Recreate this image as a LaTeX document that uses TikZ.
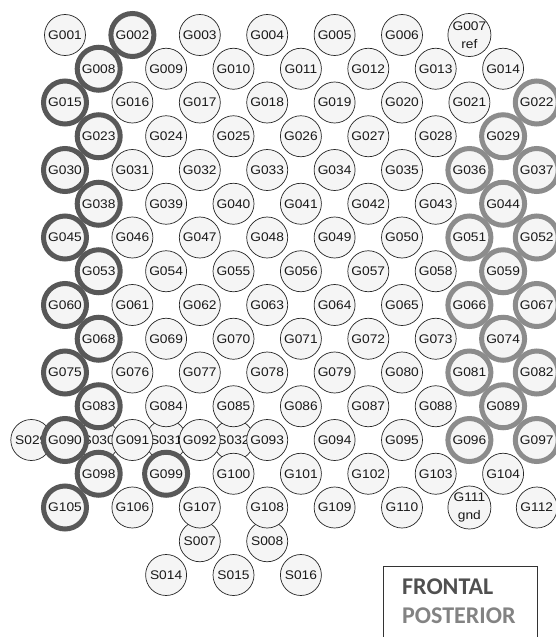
\documentclass[tikz,border=0pt]{standalone}
\usepackage{fontspec}
\newfontfamily\labfont[FakeStretch=1.1]{Liberation Sans}
\newfontfamily\boxfont{Carlito}
\definecolor{ringdark}{HTML}{585858}
\definecolor{ringlight}{HTML}{8C8C8C}
\definecolor{elecfill}{HTML}{F5F5F5}
\definecolor{frontcol}{HTML}{505050}
\definecolor{postcol}{HTML}{838383}
\begin{document}
\begin{tikzpicture}[x=1pt,y=-1pt,
  elec/.style={circle, draw=black!85, line width=0.7pt, fill=elecfill,
    minimum size=41pt, inner sep=0pt, align=center,
    font=\labfont\fontsize{12.5}{17}\selectfont, text=black!90},
  ringD/.style={draw=ringdark, line width=5pt},
  ringL/.style={draw=ringlight, line width=5pt},
  boxtext/.style={anchor=west, inner sep=0pt, font=\boxfont\bfseries\fontsize{24}{24}\selectfont}]

\useasboundingbox[fill=white] (0,0) rectangle (555,637);

% ---- S electrodes (drawn first, lie under the G electrodes)
\node[elec] (S029) at (31.3,440) {S029};
\node[elec] (S030) at (98.7,440) {S030};
\node[elec] (S031) at (166.1,440) {S031};
\node[elec] (S032) at (233.5,440) {S032};
\node[elec] (S007) at (199.8,541.25) {S007};
\node[elec] (S008) at (267.2,541.25) {S008};
\node[elec] (S014) at (166.1,575) {S014};
\node[elec] (S015) at (233.5,575) {S015};
\node[elec] (S016) at (300.9,575) {S016};

% ---- G electrodes, row by row
% row 1 (main columns)
\foreach \nm [count=\c from 0] in {G001,G002,G003,G004,G005,G006}
  \node[elec] (\nm) at ({65+67.4*\c},35) {\nm};
\node[elec] (G007) at (469.4,35) {G007\\[1pt]ref};
% row 2 (offset)
\foreach \nm [count=\c from 0] in {G008,G009,G010,G011,G012,G013,G014}
  \node[elec] (\nm) at ({98.7+67.4*\c},68.75) {\nm};
% row 3
\foreach \nm [count=\c from 0] in {G015,G016,G017,G018,G019,G020,G021,G022}
  \node[elec] (\nm) at ({65+67.4*\c},102.5) {\nm};
% row 4
\foreach \nm [count=\c from 0] in {G023,G024,G025,G026,G027,G028,G029}
  \node[elec] (\nm) at ({98.7+67.4*\c},136.25) {\nm};
% row 5
\foreach \nm [count=\c from 0] in {G030,G031,G032,G033,G034,G035,G036,G037}
  \node[elec] (\nm) at ({65+67.4*\c},170) {\nm};
% row 6
\foreach \nm [count=\c from 0] in {G038,G039,G040,G041,G042,G043,G044}
  \node[elec] (\nm) at ({98.7+67.4*\c},203.75) {\nm};
% row 7
\foreach \nm [count=\c from 0] in {G045,G046,G047,G048,G049,G050,G051,G052}
  \node[elec] (\nm) at ({65+67.4*\c},237.5) {\nm};
% row 8
\foreach \nm [count=\c from 0] in {G053,G054,G055,G056,G057,G058,G059}
  \node[elec] (\nm) at ({98.7+67.4*\c},271.25) {\nm};
% row 9
\foreach \nm [count=\c from 0] in {G060,G061,G062,G063,G064,G065,G066,G067}
  \node[elec] (\nm) at ({65+67.4*\c},305) {\nm};
% row 10
\foreach \nm [count=\c from 0] in {G068,G069,G070,G071,G072,G073,G074}
  \node[elec] (\nm) at ({98.7+67.4*\c},338.75) {\nm};
% row 11
\foreach \nm [count=\c from 0] in {G075,G076,G077,G078,G079,G080,G081,G082}
  \node[elec] (\nm) at ({65+67.4*\c},372.5) {\nm};
% row 12
\foreach \nm [count=\c from 0] in {G083,G084,G085,G086,G087,G088,G089}
  \node[elec] (\nm) at ({98.7+67.4*\c},406.25) {\nm};
% row 13
\foreach \nm [count=\c from 0] in {G090,G091,G092,G093,G094,G095,G096,G097}
  \node[elec] (\nm) at ({65+67.4*\c},440) {\nm};
% row 14
\foreach \nm [count=\c from 0] in {G098,G099,G100,G101,G102,G103,G104}
  \node[elec] (\nm) at ({98.7+67.4*\c},473.75) {\nm};
% row 15
\foreach \nm [count=\c from 0] in {G105,G106,G107,G108,G109,G110}
  \node[elec] (\nm) at ({65+67.4*\c},507.5) {\nm};
\node[elec] (G111) at (469.4,507.5) {G111\\[1pt]gnd};
\node[elec] (G112) at (536.8,507.5) {G112};

% ---- highlighted rings
\foreach \nm in {G002,G008,G015,G023,G030,G038,G045,G053,G060,G068,G075,G083,G090,G098,G099,G105}
  \draw[ringD] (\nm.center) circle (21.5);
\foreach \nm in {G022,G029,G036,G037,G044,G051,G052,G059,G066,G067,G074,G081,G082,G089,G096,G097}
  \draw[ringL] (\nm.center) circle (21.5);

% ---- legend box
\node[draw=black!80, line width=0.8pt, anchor=north west, minimum width=154pt,
  minimum height=95pt, inner sep=0pt] (legend) at (383,566) {};
\node[boxtext, text=frontcol] (frontal) at (402,587) {FRONTAL};
\node[boxtext, text=postcol] (posterior) at (402,615.5) {POSTERIOR};
\end{tikzpicture}
\end{document}
